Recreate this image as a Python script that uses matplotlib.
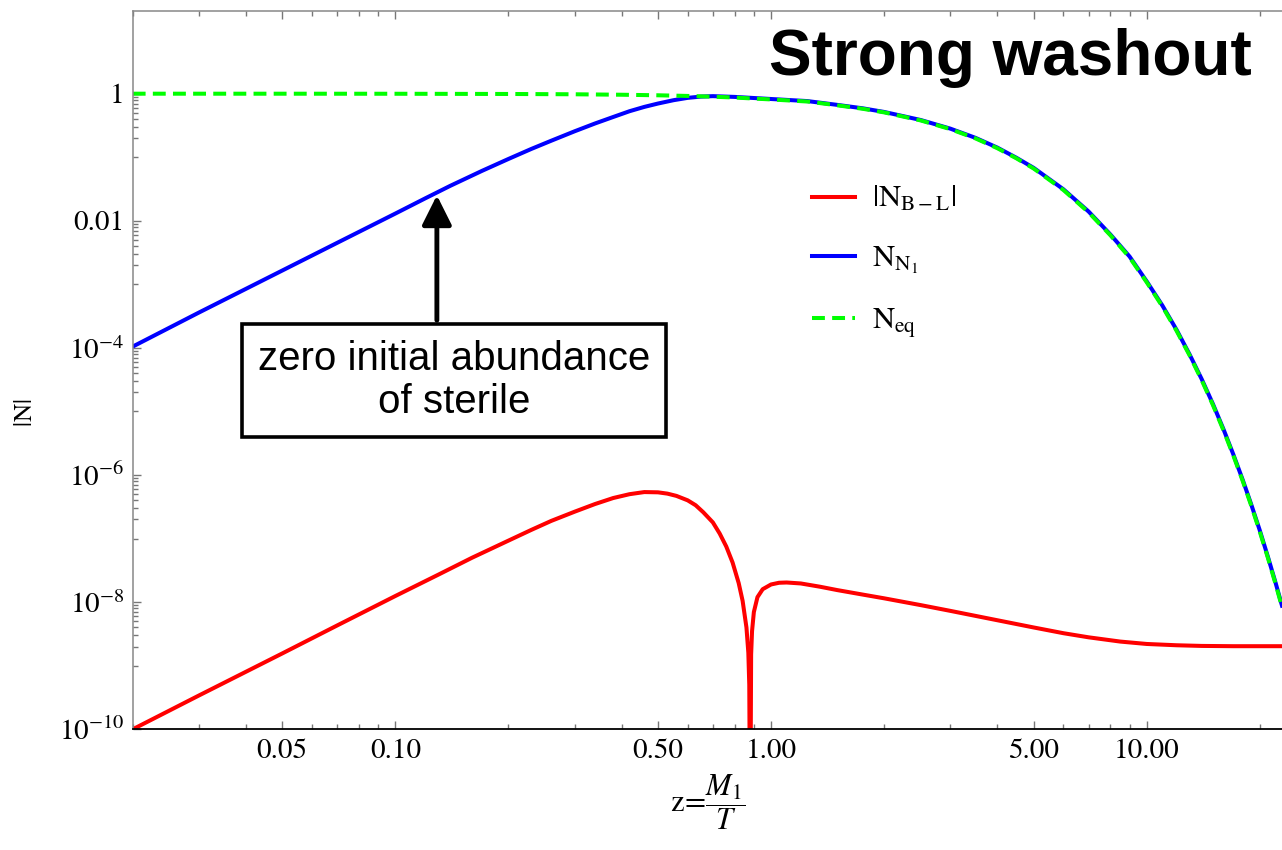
import numpy as np
import matplotlib
matplotlib.use("Agg")
import matplotlib.pyplot as plt
from matplotlib.ticker import FixedLocator, FixedFormatter, LogLocator, NullFormatter

plt.rcParams['font.family'] = ['STIXGeneral', 'DejaVu Sans']
plt.rcParams['mathtext.fontset'] = 'stix'

# |N_B-L|
z_bl = [0.02, 0.03, 0.05, 0.07, 0.1, 0.13, 0.16, 0.2, 0.23, 0.26, 0.3, 0.34, 0.38, 0.42,
        0.46, 0.5, 0.53, 0.56, 0.6, 0.63, 0.66, 0.7, 0.73, 0.76, 0.79, 0.82, 0.84, 0.86,
        0.87, 0.875, 0.88, 0.885, 0.89, 0.9, 0.92, 0.95, 1.0, 1.05, 1.1, 1.2, 1.35, 1.5,
        1.75, 2.0, 2.5, 3.0, 4.0, 5.0, 6.0, 7.0, 8.5, 10.0, 12.0, 14.0, 17.0, 22.9]
n_bl = [1.0e-10, 3.4e-10, 1.56e-9, 4.3e-9, 1.25e-8, 2.7e-8, 5.0e-8, 9.3e-8, 1.37e-7,
        1.9e-7, 2.65e-7, 3.5e-7, 4.35e-7, 5.0e-7, 5.4e-7, 5.35e-7, 5.1e-7, 4.7e-7,
        4.0e-7, 3.35e-7, 2.6e-7, 1.8e-7, 1.2e-7, 7.5e-8, 4.2e-8, 2.0e-8, 1.05e-8, 4e-9,
        1.6e-9, 5e-10, 1e-12, 1.5e-9, 3.5e-9, 7e-9, 1.2e-8, 1.6e-8, 1.9e-8, 2.02e-8,
        2.04e-8, 1.97e-8, 1.75e-8, 1.55e-8, 1.32e-8, 1.15e-8, 9.0e-9, 7.3e-9, 5.2e-9,
        4.0e-9, 3.25e-9, 2.8e-9, 2.4e-9, 2.2e-9, 2.1e-9, 2.05e-9, 2.03e-9, 2.03e-9]

# N_N1
z_n1 = [0.02, 0.03, 0.05, 0.07, 0.1, 0.12, 0.14, 0.17, 0.2, 0.23, 0.26, 0.3, 0.34, 0.38,
        0.42, 0.46, 0.5, 0.55, 0.6, 0.65, 0.7, 0.8, 1.0, 1.25, 1.5, 1.75, 2.0, 2.5,
        3.0, 3.5, 4.0, 4.5, 5.0, 6.0, 7.0, 8.0, 9.0, 10.0, 11.0, 12.0, 13.0, 14.0,
        15.0, 16.0, 17.0, 18.0, 19.0, 20.0, 21.0, 22.0, 22.9]
n_n1 = [1.05e-4, 3.6e-4, 1.65e-3, 4.5e-3, 0.013, 0.0225, 0.0355, 0.061, 0.094, 0.135,
        0.182, 0.256, 0.34, 0.43, 0.53, 0.62, 0.70, 0.79, 0.86, 0.90, 0.915, 0.89,
        0.825, 0.765, 0.667, 0.59, 0.516, 0.386, 0.282, 0.202, 0.142, 0.098, 0.068,
        0.0313, 0.0140, 6.1e-3, 2.74e-3, 1.11e-3, 4.66e-4, 1.93e-4, 7.9e-5, 3.23e-5,
        1.31e-5, 5.26e-6, 2.1e-6, 8.4e-7, 3.34e-7, 1.33e-7, 5.2e-8, 2.05e-8, 8.8e-9]

# N_eq
z_eq = [0.02, 0.05, 0.1, 0.2, 0.3, 0.4, 0.5, 0.6, 0.7, 0.8, 1.0, 1.25, 1.5, 1.75, 2.0,
        2.5, 3.0, 3.5, 4.0, 4.5, 5.0, 6.0, 7.0, 8.0, 9.0, 10.0, 11.0, 12.0, 13.0, 14.0,
        15.0, 16.0, 17.0, 18.0, 19.0, 20.0, 21.0, 22.0, 22.9]
n_eq = [1.0, 0.9994, 0.9975, 0.990, 0.979, 0.963, 0.944, 0.922, 0.897, 0.870, 0.812,
        0.753, 0.657, 0.58, 0.508, 0.380, 0.277, 0.198, 0.139, 0.096, 0.0664, 0.0305,
        0.0136, 5.93e-3, 2.65e-3, 1.075e-3, 4.5e-4, 1.86e-4, 7.63e-5, 3.11e-5,
        1.26e-5, 5.05e-6, 2.02e-6, 8.07e-7, 3.2e-7, 1.27e-7, 5.0e-8, 1.96e-8, 8.4e-9]

x_ticks = [0.05, 0.1, 0.5, 1, 5, 10]
x_ticklabels = ['0.05', '0.10', '0.50', '1.00', '5.00', '10.00']
y_ticks = [1e-10, 1e-8, 1e-6, 1e-4, 1e-2, 1]
y_ticklabels = [r'$10^{-10}$', r'$10^{-8}$', r'$10^{-6}$', r'$10^{-4}$', '0.01', '1']

fig = plt.figure(figsize=(12.82, 8.5), dpi=100)
ax = fig.add_axes([132.7/1282, 1-729.3/850, 1-132.7/1282, (729.3-11)/850])

ax.plot(z_bl, n_bl, color='#ff0000', lw=2.9, label=r'$|\mathrm{N}_{\mathrm{B-L}}|$')
ax.plot(z_n1, n_n1, color='#0000ff', lw=2.9, label=r'$\mathrm{N}_{\mathrm{N}_1}$')
ax.plot(z_eq, n_eq, color='#00ff00', lw=2.9, dashes=(3.2, 1.8), label=r'$\mathrm{N}_{\mathrm{eq}}$')

ax.set_xscale('log')
ax.set_yscale('log')
ax.set_xlim(0.02, 22.9)
ax.set_ylim(1e-10, 20)

ax.xaxis.set_major_locator(FixedLocator(x_ticks))
ax.xaxis.set_major_formatter(FixedFormatter(x_ticklabels))
ax.xaxis.set_minor_locator(LogLocator(base=10, subs=np.arange(2, 10)))
ax.xaxis.set_minor_formatter(NullFormatter())

ax.yaxis.set_major_locator(FixedLocator(y_ticks))
ax.yaxis.set_major_formatter(FixedFormatter(y_ticklabels))
y_minor = [m * t / 10 for t in y_ticks for m in range(1, 10)]
ax.yaxis.set_minor_locator(FixedLocator(y_minor))
ax.yaxis.set_minor_formatter(NullFormatter())

ax.tick_params(which='both', direction='in', top=True, right=False, color='#777777', width=1)
ax.tick_params(which='major', length=6, labelsize=21, pad=6)
ax.tick_params(which='minor', length=3.3)
ax.tick_params(axis='x', pad=7)

for s in ['left', 'top']:
    ax.spines[s].set_color('#888888')
    ax.spines[s].set_linewidth(1.1)
ax.spines['bottom'].set_color('black')
ax.spines['bottom'].set_linewidth(1.3)
ax.spines['right'].set_visible(False)

ax.set_xlabel(r'$\mathrm{z}\!=\!\dfrac{M_1}{T}$', fontsize=22, labelpad=6)
ax.set_ylabel(r'$|\mathrm{N}|$', fontsize=18)
ax.yaxis.set_label_coords(-0.082, 0.44)

ax.legend(loc='upper left', bbox_to_anchor=(812/1282, 1-185/850), bbox_transform=fig.transFigure,
          frameon=False, fontsize=22, handlelength=1.4, handletextpad=0.55,
          labelspacing=1.0, borderpad=0, borderaxespad=0)

fig.text(1252/1282, 1-75/850, 'Strong washout', ha='right', va='baseline',
         fontsize=46, fontweight='bold', family='Liberation Sans')

ax.annotate('', xy=(0.129, 0.0252), xytext=(0.129, 2.73e-4),
            arrowprops=dict(arrowstyle='-|>,head_length=0.6,head_width=0.3',
                            mutation_scale=30, lw=3.5, color='black',
                            shrinkA=0, shrinkB=0))
ax.text(0.1435, 3.1e-5, 'zero initial abundance\nof sterile', ha='center', va='center',
        multialignment='center', fontsize=29, family='Liberation Sans', linespacing=1.15,
        bbox=dict(boxstyle='square,pad=0.4', fc='white', ec='black', lw=2.6))

fig.savefig('out.png', dpi=100)
